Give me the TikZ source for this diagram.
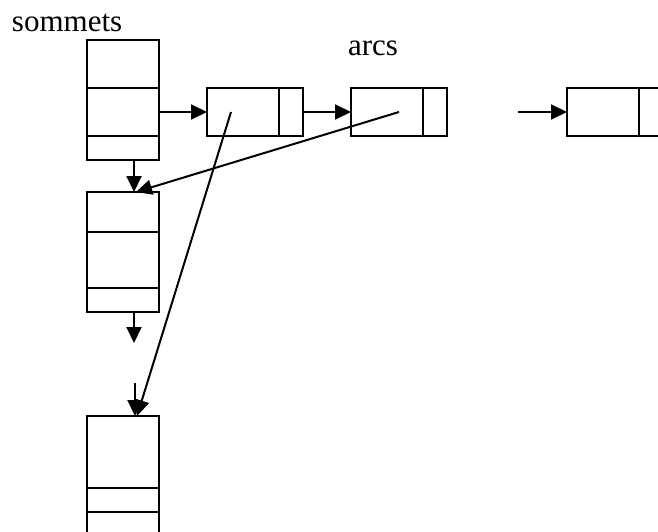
\documentclass[tikz,border=0pt]{standalone}
\usepackage{fontspec}
\setmainfont{Liberation Serif}
\usetikzlibrary{arrows.meta}
\begin{document}
\begin{tikzpicture}[x=1pt,y=-1pt,line width=2pt,
  cell/.style={draw,minimum width=72pt,minimum height=120pt,inner sep=0pt,outer sep=0pt},
  arcbox/.style={draw,minimum width=96pt,minimum height=48pt,inner sep=0pt,outer sep=0pt},
  lbl/.style={anchor=base west,inner sep=0pt,font=\fontsize{31}{36}\selectfont},
  link/.style={-{Triangle[length=16pt,width=15pt]}}]
\useasboundingbox (0,0) rectangle (658,532);

% labels
\node[lbl] (tsom) at (11,32) {sommets};
\node[lbl] (tarc) at (347,56) {arcs};

% vertex cells
\node[cell] (s1) at (123,100) {};
\node[cell] (s2) at (123,252) {};
\node[cell] (s3) at (123,476) {};
\draw (87,88) -- (159,88) (87,136) -- (159,136);
\draw (87,232) -- (159,232) (87,288) -- (159,288);
\draw (87,488) -- (159,488) (87,512) -- (159,512);

% arc cells
\node[arcbox] (a1) at (255,112) {};
\node[arcbox] (a2) at (399,112) {};
\node[arcbox] (a3) at (615,112) {};
\draw (279,88) -- (279,136);
\draw (423,88) -- (423,136);
\draw (639,88) -- (639,136);

% connection points
\coordinate (p1) at (231,112);
\coordinate (p2) at (399,112);
\coordinate (s1out) at (134,160);
\coordinate (s2in) at (134,192);
\coordinate (s2out) at (134,312);
\coordinate (stub) at (134,343);
\coordinate (s3src) at (135,383);
\coordinate (s3in) at (135,416);
\coordinate (a3src) at (518,112);

% connectors
\draw[link] (a1.west -| s1.east) -- (a1.west);
\draw[link] (a1.east) -- (a2.west);
\draw[link] (a3src) -- (a3.west);
\draw[link] (s1out) -- (s2in);
\draw[link] (s2out) -- (stub);
\draw[link] (s3src) -- (s3in);
\draw[link] (p2) -- ([xshift=2pt]s2in);
\draw[link] (p1) -- ([xshift=2pt]s3in);
\end{tikzpicture}
\end{document}
